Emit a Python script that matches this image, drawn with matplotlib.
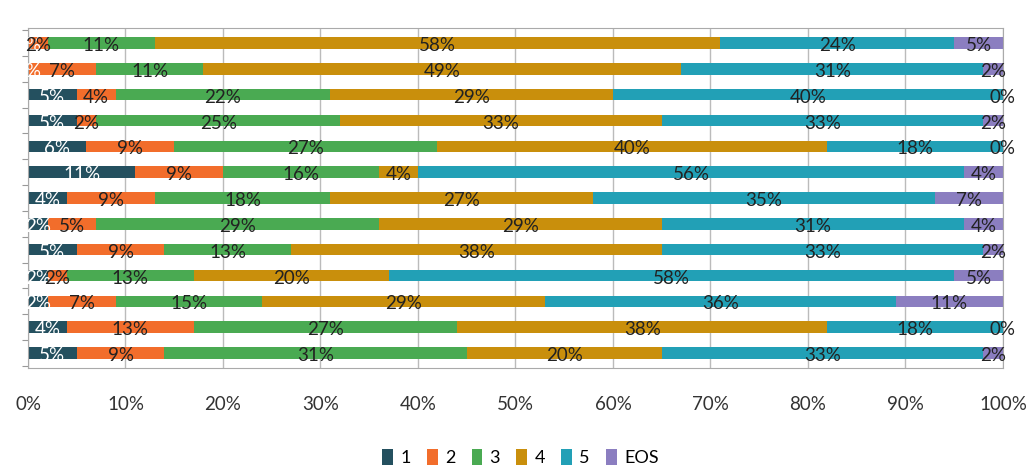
import numpy as np
import matplotlib
matplotlib.use("Agg")
import matplotlib.pyplot as plt
from matplotlib.ticker import PercentFormatter

plt.rcParams['font.family'] = ['Lato', 'DejaVu Sans']

# rows from top to bottom, values in percent
series = ['1', '2', '3', '4', '5', 'EOS']
s1 = [0, 0, 5, 5, 6, 11, 4, 2, 5, 2, 2, 4, 5]
s2 = [2, 7, 4, 2, 9, 9, 9, 5, 9, 2, 7, 13, 9]
s3 = [11, 11, 22, 25, 27, 16, 18, 29, 13, 13, 15, 27, 31]
s4 = [58, 49, 29, 33, 40, 4, 27, 29, 38, 20, 29, 38, 20]
s5 = [24, 31, 40, 33, 18, 56, 35, 31, 33, 58, 36, 18, 33]
s_eos = [5, 2, 0, 2, 0, 4, 7, 4, 2, 5, 11, 0, 2]
colors = ['#24505F', '#F26D2B', '#4AAA52', '#C98F0C', '#22A0B6', '#8B7EC0']

data = [s1, s2, s3, s4, s5, s_eos]
n = len(s1)
y = np.arange(n)[::-1]

fig = plt.figure(figsize=(10.31, 4.65), dpi=100)
ax = fig.add_axes([28 / 1031, 1 - 368 / 465, 975 / 1031, 340 / 465])

left = np.zeros(n)
for name, vals, col in zip(series, data, colors):
    vals = np.array(vals, dtype=float)
    ax.barh(y, vals, left=left, height=0.45, color=col, label=name, zorder=2)
    tc = 'white' if name == '1' else '#222222'
    for yi, l, v in zip(y, left, vals):
        ax.text(l + v / 2, yi - 0.1, f'{int(v)}%', ha='center', va='center',
                fontsize=13.5, color=tc, zorder=3)
    left += vals

ax.set_xlim(0, 100)
ax.set_ylim(-0.58, n - 0.42)
ax.xaxis.set_major_locator(plt.MultipleLocator(10))
ax.xaxis.set_major_formatter(PercentFormatter(decimals=0))
ax.grid(axis='x', color='#BBBBBB', linewidth=1, zorder=0)
ax.set_yticks(np.arange(n + 1) - 0.5)
ax.set_yticklabels([])
ax.tick_params(axis='y', length=4, color='#999999', direction='out')
ax.tick_params(axis='x', length=0, labelsize=13.5, colors='#333333', pad=20)
for side in ['left', 'bottom', 'top', 'right']:
    ax.spines[side].set_color('#AAAAAA')

ax.legend(loc='upper center', bbox_to_anchor=(0.505, -0.19), ncol=6, frameon=False,
          fontsize=13, handlelength=0.6, handleheight=1.0, handletextpad=0.4,
          columnspacing=0.9)

fig.savefig('out.png', dpi=100)
